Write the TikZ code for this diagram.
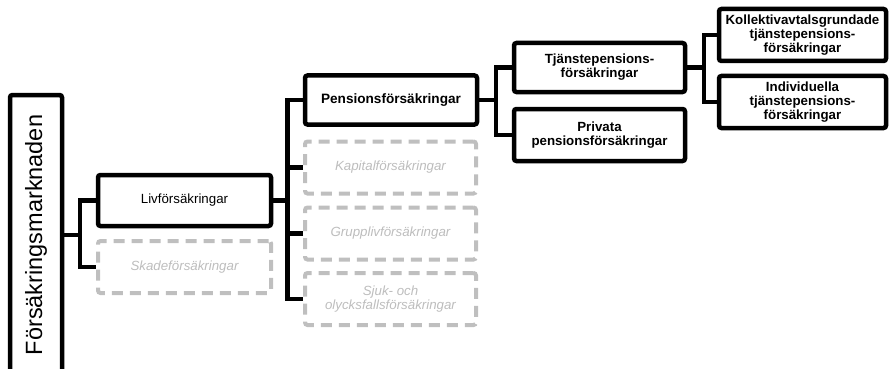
\documentclass[tikz,border=0pt]{standalone}
\usepackage{fontspec}
\setmainfont{Liberation Sans}
\definecolor{dashgrey}{HTML}{BFBFBF}
\definecolor{textgrey}{HTML}{BDBDBD}
\begin{document}
\begin{tikzpicture}[x=1pt,y=-1pt,
  base/.style={align=center, inner sep=0pt, rounded corners=2.5pt,
    font=\fontsize{13.3}{14}\selectfont},
  solidbox/.style={base, draw=black, line width=4.5pt},
  boldbox/.style={solidbox, font=\fontsize{13.3}{14}\selectfont\bfseries},
  ghostbox/.style={base, draw=dashgrey, line width=4pt,
    dash pattern=on 11pt off 7pt, text=textgrey,
    font=\fontsize{13.3}{14}\selectfont\itshape},
  conn/.style={draw=black, line width=4.4pt, line join=miter}
]
\useasboundingbox (0,0) rectangle (889,369);

% left market box
\node[solidbox, minimum width=52pt, minimum height=280pt] (market) at (36,235) {};
\node[rotate=90, inner sep=0pt, font=\fontsize{23.5}{24}\selectfont] (marketlabel) at (market.center) {Försäkringsmarknaden};

% level 1
\node[solidbox, minimum width=173pt, minimum height=51pt] (liv) at (184.5,200.5) {Livförsäkringar};
\node[ghostbox, minimum width=173pt, minimum height=52pt] (skade) at (184.5,267) {Skadeförsäkringar};

% level 2
\node[boldbox, minimum width=172pt, minimum height=49pt, font=\fontsize{13.6}{14}\selectfont\bfseries] (pens) at (391,100) {Pensionsförsäkringar};
\node[ghostbox, minimum width=171pt, minimum height=52pt] (kap) at (390.5,167.5) {Kapitalförsäkringar};
\node[ghostbox, minimum width=171pt, minimum height=52pt] (grupp) at (390.5,233.5) {Grupplivförsäkringar};
\node[ghostbox, minimum width=171pt, minimum height=52pt] (sjuk) at (390.5,299) {Sjuk- och\\olycksfallsförsäkringar};

% level 3
\node[boldbox, minimum width=171pt, minimum height=49pt] (tj) at (599.5,67.5) {Tjänstepensions-\\försäkringar};
\node[boldbox, minimum width=171pt, minimum height=52pt] (priv) at (599.5,135) {Privata\\pensionsförsäkringar};

% level 4
\node[boldbox, minimum width=167pt, minimum height=52pt] (koll) at (802.5,35) {Kollektivavtalsgrundade\\tjänstepensions-\\försäkringar};
\node[boldbox, minimum width=167pt, minimum height=52pt] (indiv) at (802.5,102) {Individuella\\tjänstepensions-\\försäkringar};

% junctions
\coordinate (j1) at (80,235);
\coordinate (j2) at (287.5,200.5);
\coordinate (j3) at (496,100);
\coordinate (j4) at (704,67.5);

% connectors
\draw[conn] (market.east) -- (j1);
\draw[conn] (liv.west) -| (j1) |- (skade.west);

\draw[conn] (liv.east) -- (j2);
\draw[conn] (pens.west) -| (j2) |- (sjuk.west);
\draw[conn] (kap.west) -- (kap.west -| j2);
\draw[conn] (grupp.west) -- (grupp.west -| j2);

\draw[conn] (pens.east) -- (j3);
\draw[conn] (tj.west) -| (j3) |- (priv.west);

\draw[conn] (tj.east) -- (j4);
\draw[conn] (koll.west) -| (j4) |- (indiv.west);
\end{tikzpicture}
\end{document}
